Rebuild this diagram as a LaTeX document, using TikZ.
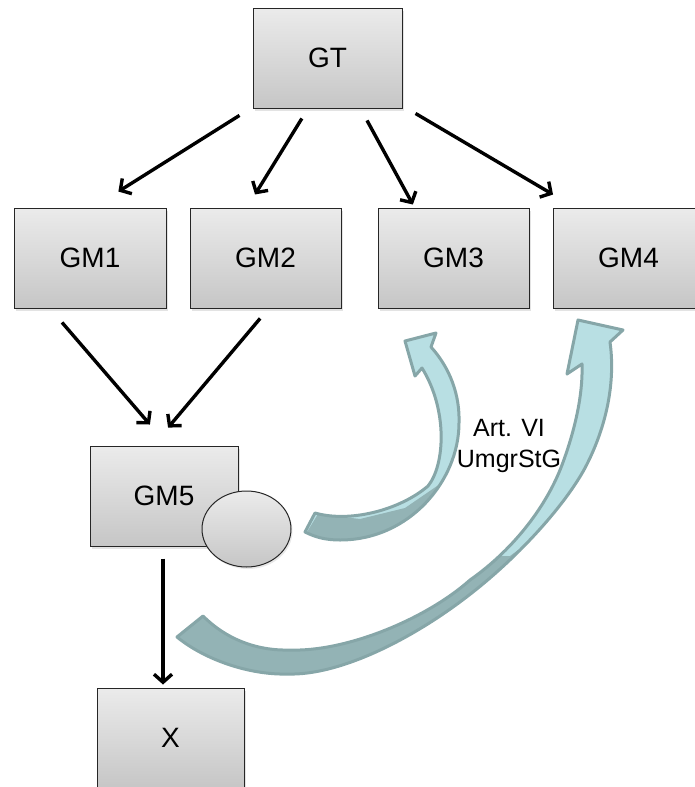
\documentclass[tikz,border=0pt]{standalone}
\usepackage{fontspec}
\setmainfont{Liberation Sans}
\usetikzlibrary{arrows.meta,calc,shapes.geometric,shadows}
\definecolor{boxtop}{HTML}{EBEBEB}
\definecolor{boxbot}{HTML}{C6C6C6}
\definecolor{arrlight}{HTML}{B8DFE3}
\definecolor{arrdark}{HTML}{93B3B5}
\definecolor{arredge}{HTML}{86A6A8}
\tikzset{
  gbox/.style={draw=black!85, line width=1pt, top color=boxtop, bottom color=boxbot,
    minimum width=151pt, minimum height=100pt, inner sep=0pt,
    font=\fontsize{28}{32}\selectfont,
    drop shadow={shadow xshift=2pt, shadow yshift=-3pt, opacity=0.22}},
  conn/.style={line width=3.4pt, -{Straight Barb[length=8pt,width=18pt]}},
  bluearrow/.style={arredge, line width=3pt, line join=round},
}
\begin{document}
\begin{tikzpicture}[x=1pt,y=-1pt]
\useasboundingbox (0,0) rectangle (694,787);

% curved blue arrows
\path[save path=\smallA] (305,532) -- (315,513)
  .. controls (350,523) and (400,510) .. (428,486)
  .. controls (445,465) and (448,410) .. (422,368)
  -- (415,376) -- (405,341) -- (436,333) -- (431,347)
  .. controls (450,368) and (460,395) .. (459,423)
  .. controls (459,480) and (410,540) .. (340,540)
  .. controls (325,540) and (315,537) .. (305,532) -- cycle;
\path[save path=\bigA] (177,637) -- (203,616)
  .. controls (225,638) and (255,651) .. (290,650)
  .. controls (345,652) and (425,620) .. (470,580)
  .. controls (510,552) and (545,510) .. (562,465)
  .. controls (575,430) and (583,395) .. (582,364)
  -- (567,374) -- (578,320) -- (623,330) -- (610,342)
  .. controls (616,385) and (605,430) .. (585,468)
  .. controls (565,505) and (520,555) .. (473,592)
  .. controls (415,638) and (340,676) .. (287,674)
  .. controls (250,675) and (205,660) .. (177,637) -- cycle;

\fill[arrlight, use path=\smallA];
\begin{scope}
  \clip[use path=\smallA];
  \fill[arrdark] (472,440) -- (440,484) -- (405,508) -- (360,519) -- (318,514) -- (290,560) -- (480,560) -- cycle;
\end{scope}
\draw[bluearrow, use path=\smallA];

\fill[arrlight, use path=\bigA];
\begin{scope}
  \clip[use path=\bigA];
  \fill[arrdark] (640,460) -- (510,556) -- (160,560) -- (160,700) -- (640,700) -- cycle;
\end{scope}
\draw[bluearrow, use path=\bigA];

% boxes
\node[gbox, minimum width=149pt] (GT) at (327.5,58) {GT};
\node[gbox, minimum width=152pt] (GM1) at (90,258) {GM1};
\node[gbox] (GM2) at (265.5,258) {GM2};
\node[gbox] (GM3) at (453.5,258) {GM3};
\node[gbox] (GM4) at (628.5,258) {GM4};
\node[gbox, minimum width=148pt] (GM5) at (164,496) {GM5};
\node[gbox, minimum width=147pt] (X) at (170.5,738) {X};
\node[ellipse, draw=black!85, line width=1pt, top color=boxtop, bottom color=boxbot,
  minimum width=89pt, minimum height=76pt, inner sep=0pt,
  drop shadow={shadow xshift=1.5pt, shadow yshift=-2pt, opacity=0.18}] (seal) at (246.5,529) {};

% label
\node[align=center, inner sep=0pt, font=\fontsize{25}{31}\selectfont] (lbl) at (509,446) {Art. VI\\UmgrStG};

% connectors
\draw[conn, shorten <=13pt, shorten >=30pt] ($(GT.south west)+(-2,0)$) -- ($(GM1.north)+(3,0)$);
\draw[conn, shorten <=11.7pt, shorten >=15.3pt] ($(GT.south)+(-19.5,0)$) -- ($(GM2.north)+(-18.5,0)$);
\draw[conn, shorten <=13.6pt, shorten >=3.4pt] ($(GT.south)+(33,0)$) -- ($(GM3.north)+(-39,0)$);
\draw[conn, shorten <=9.8pt, shorten >=25.5pt] ($(GT.south east)+(4.6,0)$) -- ($(GM4.north)+(-53.5,0)$);
\draw[conn, shorten <=18.4pt, shorten >=27.7pt] ($(GM1.south)+(-40,0)$) -- ($(GM5.north)+(4,0)$);
\draw[conn, shorten <=13pt, shorten >=23.4pt] ($(GM2.south)+(3,0)$) -- ($(GM5.north)+(-11,0)$);
\draw[conn, shorten <=12pt, shorten >=3pt] ($(GM5.south)+(-1,0)$) -- ($(X.north)+(-7.5,0)$);
\end{tikzpicture}
\end{document}
